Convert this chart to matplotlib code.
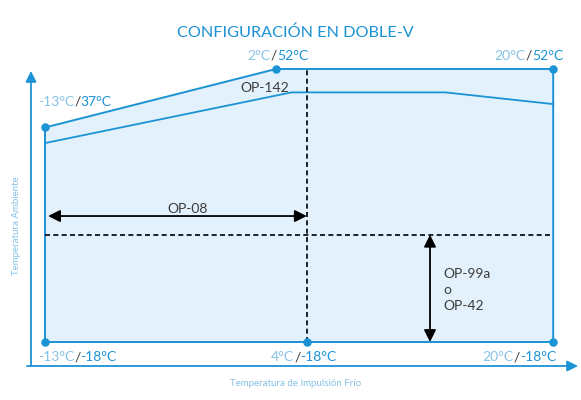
import matplotlib
matplotlib.use("Agg")
import matplotlib.pyplot as plt
from matplotlib.patches import FancyArrowPatch, Polygon

# ---- data ----
title = "CONFIGURACIÓN EN DOBLE-V"
x_label = "Temperatura de Impulsión Frío"
y_label = "Temperatura Ambiente"
# outer envelope (impulsion temp, ambient temp)
env_x = [-13, -13, 2, 20, 20]
env_y = [-18, 37, 52, 52, -18]
# OP-142 limit line
op142_x = [-13, 3, 13, 20]
op142_y = [33, 46, 46, 43]
# corner points (impulsion, ambient)
pts_x = [-13, 2, 20, -13, 4, 20]
pts_y = [37, 52, 52, -18, -18, -18]
split_x = 4      # vertical dashed line
split_y = 9.5    # horizontal dashed line
op08_y = 14.3
op99_x = 12

BLUE = "#1b93d5"
LIGHT = "#86c1e6"
FILL = "#e2f1fb"
DARK = "#3a3a3a"
FONT = "Lato"

fig = plt.figure(figsize=(5.81, 4.0), dpi=100)
ax = fig.add_axes([0, 0, 1, 1])
ax.set_xlim(-15.922, 21.805)
ax.set_ylim(-32.87, 69.69)
ax.axis("off")


def ypix(p):
    return -18 + (342 - p) / 3.9


def xpix(p):
    return -13 + (p - 45) / 15.4


# envelope fill and border
ax.add_patch(Polygon(list(zip(env_x, env_y)), closed=True, facecolor=FILL,
                     edgecolor=BLUE, lw=1.4, zorder=1))
ax.plot(op142_x, op142_y, color=BLUE, lw=1.3, zorder=2)

# dashed lines
ax.plot([split_x, split_x], [-18, 52], color="black", lw=1.2, ls=(0, (3, 2)), zorder=3)
ax.plot([-13, 20], [split_y, split_y], color="black", lw=1.2, ls=(0, (3, 2)), zorder=3)

# black double arrows
ax.add_patch(FancyArrowPatch((-12.8, op08_y), (split_x, op08_y), arrowstyle="<|-|>",
                             mutation_scale=18, color="black", lw=1.3, zorder=4,
                             shrinkA=0, shrinkB=0))
ax.add_patch(FancyArrowPatch((op99_x, split_y), (op99_x, -18), arrowstyle="<|-|>",
                             mutation_scale=18, color="black", lw=1.3, zorder=4,
                             shrinkA=0, shrinkB=0))

# points
ax.scatter(pts_x, pts_y, s=26, color=BLUE, zorder=5, edgecolors=BLUE)

# axis arrows
ax.add_patch(FancyArrowPatch((xpix(31), ypix(366)), (xpix(31), ypix(71)), arrowstyle="-|>",
                             mutation_scale=16, color=BLUE, lw=1.3, shrinkA=0, shrinkB=0,
                             zorder=2))
ax.add_patch(FancyArrowPatch((xpix(27), ypix(366)), (xpix(578), ypix(366)), arrowstyle="-|>",
                             mutation_scale=16, color=BLUE, lw=1.3, shrinkA=0, shrinkB=0,
                             zorder=2))

fig.canvas.draw()
renderer = fig.canvas.get_renderer()


def multi_text(x, y, parts, ha="left", size=10):
    """Draw text pieces side by side starting at data (x, y) on the baseline."""
    texts = []
    widths = []
    for s, c, w in parts:
        t = ax.text(0, 0, s, color=c, fontsize=size, fontweight=w, family=FONT,
                    va="baseline", ha="left")
        bb = t.get_window_extent(renderer)
        widths.append(bb.width)
        texts.append(t)
    total = sum(widths)
    px, py = ax.transData.transform((x, y))
    if ha == "center":
        px -= total / 2
    elif ha == "right":
        px -= total
    inv = ax.transData.inverted()
    for t, w in zip(texts, widths):
        t.set_position(inv.transform((px, py)))
        px += w


multi_text(xpix(38), ypix(106), [("-13°C", LIGHT, "normal"), ("/", DARK, "normal"),
                                 ("37°C", BLUE, "normal")])
multi_text(xpix(278), ypix(60), [("2°C", LIGHT, "normal"), ("/", DARK, "normal"),
                                 ("52°C", BLUE, "normal")], ha="center")
multi_text(xpix(563), ypix(60), [("20°C", LIGHT, "normal"), ("/", DARK, "normal"),
                                 ("52°C", BLUE, "normal")], ha="right")
multi_text(xpix(38), ypix(361), [("-13°C", LIGHT, "normal"), ("/", DARK, "normal"),
                                 ("-18°C", BLUE, "normal")])
multi_text(xpix(304), ypix(361), [("4°C", LIGHT, "normal"), ("/", DARK, "normal"),
                                  ("-18°C", BLUE, "normal")], ha="center")
multi_text(xpix(556), ypix(361), [("20°C", LIGHT, "normal"), ("/", DARK, "normal"),
                                  ("-18°C", BLUE, "normal")], ha="right")

ax.text(xpix(265), ypix(92), "OP-142", color=DARK, fontsize=10, family=FONT,
        ha="center", va="baseline")
ax.text(xpix(188), ypix(213), "OP-08", color=DARK, fontsize=10, family=FONT,
        ha="center", va="baseline")
ax.text(xpix(443), ypix(278), "OP-99a", color=DARK, fontsize=10, family=FONT,
        ha="left", va="baseline")
ax.text(xpix(443), ypix(294), "o", color=DARK, fontsize=10, family=FONT,
        ha="left", va="baseline")
ax.text(xpix(443), ypix(310), "OP-42", color=DARK, fontsize=10, family=FONT,
        ha="left", va="baseline")

ax.text(xpix(295), ypix(37), title, color=BLUE, fontsize=11.7, family=FONT,
        ha="center", va="baseline")
ax.text(xpix(296), ypix(386), x_label, color=LIGHT, fontsize=7, family=FONT,
        ha="center", va="baseline")
ax.text(xpix(17), ypix(226), y_label, color=LIGHT, fontsize=7, family=FONT,
        ha="center", va="center", rotation=90)

fig.savefig("out.png", dpi=100)
